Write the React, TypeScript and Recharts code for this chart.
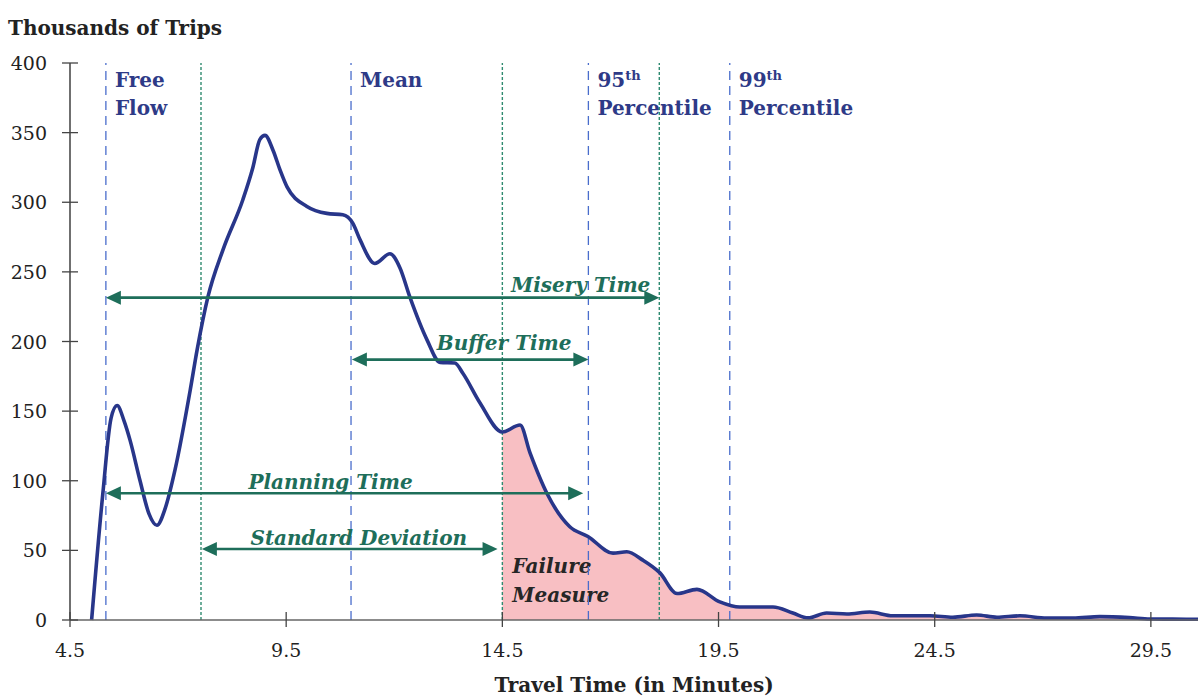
import React from 'react';
import { ComposedChart, Line, Area, XAxis, YAxis, ReferenceLine } from 'recharts';

// Travel time (minutes) and thousands of trips
const times = [
  5.0, 5.26, 5.45, 5.59, 5.75, 5.89, 6.12, 6.33, 6.51, 6.7, 6.93, 7.28, 7.44, 7.69,
  8.04, 8.5, 8.73, 8.89, 9.01, 9.2, 9.36, 9.52, 9.98, 10.44, 10.81, 11.04, 11.21,
  11.55, 11.9, 12.13, 12.36, 12.76, 13.06, 13.4, 13.59, 13.98, 14.5, 14.91, 15.14,
  15.53, 16.06, 16.48, 17.06, 17.38, 17.75, 18.14, 18.54, 19.0, 19.53, 19.99, 20.76,
  21.22, 21.57, 22.0, 22.47, 23.0, 23.53, 24.39, 24.92, 25.47, 25.94, 26.47, 27.09,
  27.7, 28.32, 29.0, 29.48, 30.0, 30.59,
];
const trips = [
  0, 91, 145, 154, 143, 129, 100, 76, 68, 80, 108, 165, 194, 232,
  266, 302, 325, 345, 348, 337, 323, 311, 297, 292, 291, 285, 273,
  256, 263, 253, 232, 201, 185, 184.6, 177, 156, 135, 140, 120,
  91, 67, 60, 48, 49, 43, 34, 19, 22, 13, 9.3, 9.3,
  5, 1.5, 5, 4.3, 5.7, 3, 3, 2, 3.6, 2, 3, 1.4,
  1.4, 2.4, 1.7, 0.7, 0.6, 0.5,
];
const failureStart = 14.5;

const xTicks = [4.5, 9.5, 14.5, 19.5, 24.5, 29.5];
const yTicks = [0, 50, 100, 150, 200, 250, 300, 350, 400];
const xDomain = [4.5, 30.59];
const yDomain = [0, 400];

// Vertical marker lines (minutes)
const markerX = [5.33, 7.53, 11.0, 14.5, 16.49, 18.13, 19.76];
const markerKind = ['blue', 'green', 'blue', 'green', 'blue', 'green', 'blue'];
const markerText = [['Free', 'Flow'], null, ['Mean'], null, ['95', 'Percentile'], null, ['99', 'Percentile']];
const markerSup = [null, null, null, null, 'th', null, 'th'];

// Double arrows: from / to (minutes), level (thousands of trips)
const arrowNames = ['Misery Time', 'Buffer Time', 'Planning Time', 'Standard Deviation'];
const arrowFrom = [5.33, 11.02, 5.33, 7.55];
const arrowTo = [18.13, 16.49, 16.37, 14.39];
const arrowLevel = [231.5, 187, 91, 51];

const FONT = '"DejaVu Serif", "Liberation Serif", serif';
const NAVY = '#28368a';
const LABEL_BLUE = '#2e3a87';
const DASH_BLUE = '#4a6dcc';
const DOT_GREEN = '#2f8a70';
const ARROW_GREEN = '#1e6e5a';
const PINK = '#f8bfc3';

// label placement styling per arrow
const arrowLabelStyle = [
  { anchor: 'end', ref: 'end', dx: -9, dy: -6 },
  { anchor: 'end', ref: 'end', dx: -17, dy: -10 },
  { anchor: 'middle', ref: 'mid', dx: -14, dy: -4 },
  { anchor: 'middle', ref: 'mid', dx: 9, dy: -4 },
];

const data = times.map((t, i) => ({
  t,
  trips: trips[i],
  fail: t >= failureStart ? trips[i] : null,
}));

const XTick = (props: any) => {
  const { x, y, payload } = props;
  return (
    <g>
      <line x1={x} x2={x} y1={y - 8} y2={y + 7} stroke="#444" strokeWidth={1.3} />
      <text x={x} y={y + 37} textAnchor="middle" fontSize={19} fill="#222" fontFamily={FONT}>
        {payload.value}
      </text>
    </g>
  );
};

const YTick = (props: any) => {
  const { x, y, payload } = props;
  return (
    <g>
      <line x1={x - 8} x2={x + 8} y1={y} y2={y} stroke="#444" strokeWidth={1.3} />
      <text x={x - 23} y={y + 7} textAnchor="end" fontSize={19} fill="#222" fontFamily={FONT}>
        {payload.value}
      </text>
    </g>
  );
};

const markerLabel = (i: number) => (p: any) => {
  const vb = p.viewBox || {};
  const lines = markerText[i] as string[];
  const x = vb.x + 9;
  const top = vb.y;
  return (
    <g>
      <text x={x} y={top + 24} fontSize={20} fontWeight="bold" fill={LABEL_BLUE} fontFamily={FONT}>
        {lines[0]}
        {markerSup[i] ? (
          <tspan fontSize={13} dy={-7}>{markerSup[i]}</tspan>
        ) : null}
      </text>
      {lines[1] ? (
        <text x={x} y={top + 52} fontSize={20} fontWeight="bold" fill={LABEL_BLUE} fontFamily={FONT}>
          {lines[1]}
        </text>
      ) : null}
    </g>
  );
};

const arrowShape = (i: number) => (p: any) => {
  const { x1, x2, y1 } = p;
  const left = Math.min(x1, x2);
  const right = Math.max(x1, x2);
  const y = y1;
  const st = arrowLabelStyle[i];
  const tx = (st.ref === 'end' ? right : (left + right) / 2) + st.dx;
  return (
    <g>
      <line x1={left + 10} x2={right - 10} y1={y} y2={y} stroke={ARROW_GREEN} strokeWidth={2.6} />
      <polygon points={`${left},${y} ${left + 15},${y - 7} ${left + 15},${y + 7}`} fill={ARROW_GREEN} />
      <polygon points={`${right},${y} ${right - 15},${y - 7} ${right - 15},${y + 7}`} fill={ARROW_GREEN} />
      <text
        x={tx}
        y={y + st.dy}
        textAnchor={st.anchor as any}
        fontSize={20}
        fontWeight="bold"
        fontStyle="italic"
        fill={ARROW_GREEN}
        fontFamily={FONT}
      >
        {arrowNames[i]}
      </text>
    </g>
  );
};

const failureLabel = (p: any) => {
  const vb = p.viewBox || {};
  const x = vb.x + 10;
  const bottom = vb.y + vb.height;
  return (
    <g fontSize={20} fontWeight="bold" fontStyle="italic" fill="#262626" fontFamily={FONT}>
      <text x={x} y={bottom - 47}>Failure</text>
      <text x={x} y={bottom - 18}>Measure</text>
    </g>
  );
};

const YTitle = (p: any) => {
  const vb = p.viewBox || {};
  return (
    <text x={vb.x + 8} y={vb.y - 28} fontSize={20} fontWeight="bold" fill="#222" fontFamily={FONT}>
      Thousands of Trips
    </text>
  );
};

const XTitle = (p: any) => {
  const vb = p.viewBox || {};
  return (
    <text x={vb.x + vb.width / 2} y={vb.y + 72} textAnchor="middle" fontSize={20} fontWeight="bold" fill="#222" fontFamily={FONT}>
      Travel Time (in Minutes)
    </text>
  );
};

export default function App() {
  return (
    <div style={{ position: 'absolute', left: 0, top: 0, width: 1198, height: 696, background: '#fff' }}>
      <ComposedChart width={1198} height={696} data={data} margin={{ top: 63, right: 0, bottom: 0, left: 0 }}>
        <XAxis
          dataKey="t"
          type="number"
          domain={xDomain}
          ticks={xTicks}
          allowDataOverflow
          height={76}
          tickSize={0}
          tickMargin={0}
          tickLine={false}
          axisLine={{ stroke: '#666', strokeWidth: 1.5 }}
          tick={<XTick />}
          label={{ content: XTitle }}
        />
        <YAxis
          type="number"
          domain={yDomain}
          ticks={yTicks}
          width={70}
          tickSize={0}
          tickMargin={0}
          tickLine={false}
          axisLine={{ stroke: '#222', strokeWidth: 1.3 }}
          tick={<YTick />}
          label={{ content: YTitle }}
        />
        <Area
          type="monotone"
          dataKey="fail"
          stroke="none"
          fill={PINK}
          fillOpacity={1}
          isAnimationActive={false}
          connectNulls={false}
          dot={false}
          activeDot={false}
        />
        {markerX.map((x, i) => (
          <ReferenceLine
            key={'m' + i}
            x={x}
            stroke={markerKind[i] === 'blue' ? DASH_BLUE : DOT_GREEN}
            strokeWidth={markerKind[i] === 'blue' ? 1.3 : 1.4}
            strokeDasharray={markerKind[i] === 'blue' ? '9 6' : '3 2'}
            label={markerText[i] ? { content: markerLabel(i) } : x === failureStart ? { content: failureLabel } : undefined}
          />
        ))}
        <Line
          type="monotone"
          dataKey="trips"
          stroke={NAVY}
          strokeWidth={3.6}
          dot={false}
          activeDot={false}
          isAnimationActive={false}
        />
        {arrowNames.map((n, i) => (
          <ReferenceLine
            key={'a' + i}
            segment={[
              { x: arrowFrom[i], y: arrowLevel[i] },
              { x: arrowTo[i], y: arrowLevel[i] },
            ]}
            shape={arrowShape(i)}
          />
        ))}
      </ComposedChart>
    </div>
  );
}
